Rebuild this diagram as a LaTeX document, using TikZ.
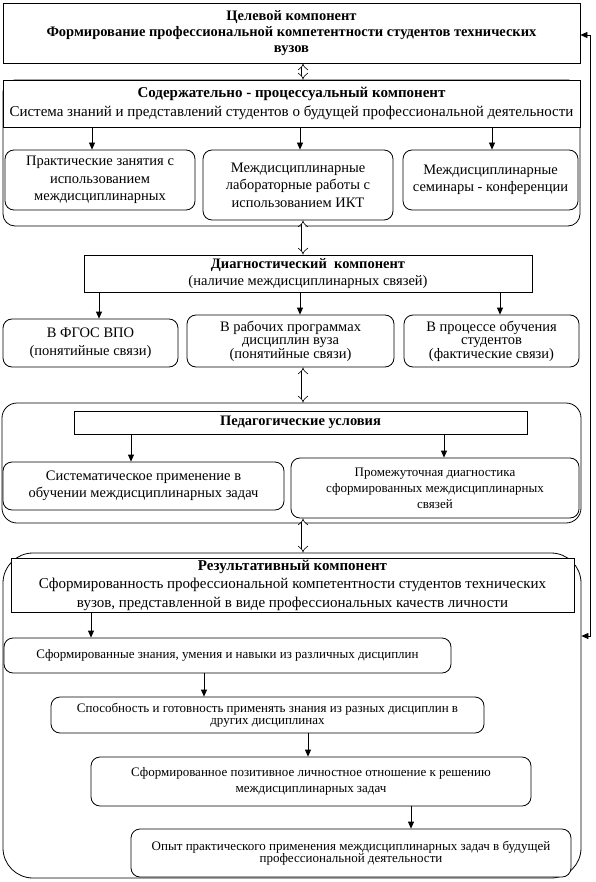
\documentclass[tikz,border=0pt]{standalone}
\usepackage{fontspec}
\setmainfont{Liberation Serif}
\usetikzlibrary{arrows.meta}
\begin{document}
\begin{tikzpicture}[x=1pt,y=-1pt,
  box/.style={draw, fill=white, inner sep=0pt, align=center, line width=0.8pt},
  rbox/.style={box, rounded corners=9pt},
  cont/.style={draw, inner sep=0pt, line width=0.8pt},
  arr/.style={line width=0.8pt, -{Triangle[length=7pt,width=6pt]}},
  fbarr/.style={line width=0.8pt, {Triangle[length=7pt,width=6pt]}-{Triangle[length=7pt,width=6pt]}},
  darr/.style={double, double distance=3pt, line width=0.6pt, {Implies}-{Implies}},
  fbig/.style={font=\fontsize{15}{19}\selectfont},
  fmid/.style={font=\fontsize{14.5}{17.5}\selectfont},
  fsm/.style={font=\fontsize{13}{16}\selectfont}
]
\useasboundingbox (0,0) rectangle (596,882);

% containers
\node[cont, rounded corners=12pt, minimum width=577pt, minimum height=146pt] (c1) at (291.5,153) {};
\node[cont, rounded corners=15pt, minimum width=579pt, minimum height=120pt] (c2) at (291.5,463) {};
\node[cont, rounded corners=30pt, minimum width=578pt, minimum height=325pt] (c3) at (292,715.5) {};

% x positions
\coordinate (mx) at (303,0);
\coordinate (xa) at (92,0);
\coordinate (xb) at (300,0);
\coordinate (xc) at (492,0);
\coordinate (xd1) at (99,0);
\coordinate (xd2) at (300,0);
\coordinate (xd3) at (500,0);
\coordinate (xp1) at (131,0);
\coordinate (xp2) at (444,0);
\coordinate (xr1) at (91,0);
\coordinate (xr2) at (204,0);
\coordinate (xr3) at (308,0);
\coordinate (xr4) at (411,0);
\coordinate (fb) at (590,0);
\coordinate (ya) at (0,35);
\coordinate (yb) at (0,636);

% top box
\node[box, minimum width=577pt, minimum height=60pt, font=\bfseries\fontsize{14.5}{16}\selectfont] (t) at (291.5,33)
  {Целевой компонент\\Формирование профессиональной компетентности студентов технических\\вузов};

% content component
\node[box, fbig, minimum width=577pt, minimum height=47pt] (b2) at (291.5,103.5)
  {\textbf{Содержательно - процессуальный компонент}\\Система знаний и представлений студентов о будущей профессиональной деятельности};

\node[rbox, fmid, minimum width=190pt, minimum height=60pt] (A) at (100,180)
  {Практические занятия с\\использованием\\междисциплинарных};
\node[rbox, fmid, minimum width=190pt, minimum height=70pt] (B) at (298,185)
  {Междисциплинарные\\лабораторные работы с\\использованием ИКТ};
\node[rbox, fmid, minimum width=175pt, minimum height=60pt] (C) at (490.5,180)
  {Междисциплинарные\\семинары - конференции};

% diagnostic
\node[box, fmid, minimum width=448pt, minimum height=37pt] (dg) at (308,273.5)
  {\textbf{Диагностический\ \ компонент}\\(наличие междисциплинарных связей)};
\node[rbox, fmid, minimum width=175pt, minimum height=48pt] (D1) at (90.5,343)
  {В ФГОС ВПО\\(понятийные связи)};
\node[rbox, font=\fontsize{14.5}{13.5}\selectfont, minimum width=207pt, minimum height=52pt] (D2) at (290.5,341)
  {В рабочих программах\\дисциплин вуза\\(понятийные связи)};
\node[rbox, font=\fontsize{14.5}{13.5}\selectfont, minimum width=175pt, minimum height=52pt] (D3) at (491.5,341)
  {В процессе обучения\\студентов\\(фактические связи)};

% pedagogical
\node[box, fmid, minimum width=453pt, minimum height=23pt] (pu) at (300.5,422.5)
  {\textbf{Педагогические условия}};
\node[rbox, fmid, minimum width=281pt, minimum height=48pt] (P1) at (143.5,486)
  {Систематическое применение в\\обучении междисциплинарных задач};
\node[rbox, fsm, minimum width=288pt, minimum height=60pt] (P2) at (435,488)
  {Промежуточная диагностика\\сформированных междисциплинарных\\связей};

% result
\node[box, font=\fontsize{15}{18.5}\selectfont, minimum width=563pt, minimum height=54pt] (r) at (292.5,585)
  {\textbf{Результативный компонент}\\Сформированность профессиональной компетентности студентов технических\\вузов, представленной в виде профессиональных качеств личности};
\node[rbox, fsm, minimum width=447pt, minimum height=35pt] (R1) at (227.5,655.5)
  {Сформированные знания, умения и навыки из различных дисциплин};
\node[rbox, font=\fontsize{13}{12}\selectfont, minimum width=433pt, minimum height=36pt] (R2) at (267.5,715)
  {Способность и готовность применять знания из разных дисциплин в\\других дисциплинах};
\node[rbox, fsm, minimum width=440pt, minimum height=49pt] (R3) at (311,781.5)
  {Сформированное позитивное личностное отношение к решению\\междисциплинарных задач};
\node[rbox, font=\fontsize{13}{12.5}\selectfont, minimum width=440pt, minimum height=48pt] (R4) at (351,853)
  {Опыт практического применения междисциплинарных задач в будущей\\профессиональной деятельности};

% double arrows
\draw[darr] (t.south -| mx) -- (b2.north -| mx);
\draw[darr] (B.south -| mx) -- (dg.north -| mx);
\draw[darr] (D2.south -| mx) -- (c2.north -| mx);
\draw[darr] (P2.south -| mx) -- (c3.north -| mx);

% single arrows
\draw[arr] (b2.south -| xa) -- (A.north -| xa);
\draw[arr] (b2.south -| xb) -- (B.north -| xb);
\draw[arr] (b2.south -| xc) -- (C.north -| xc);
\draw[arr] (dg.south -| xd1) -- (D1.north -| xd1);
\draw[arr] (dg.south -| xd2) -- (D2.north -| xd2);
\draw[arr] (dg.south -| xd3) -- (D3.north -| xd3);
\draw[arr] (pu.south -| xp1) -- (P1.north -| xp1);
\draw[arr] (pu.south -| xp2) -- (P2.north -| xp2);
\draw[arr] (r.south -| xr1) -- (R1.north -| xr1);
\draw[arr] (R1.south -| xr2) -- (R2.north -| xr2);
\draw[arr] (R2.south -| xr3) -- (R3.north -| xr3);
\draw[arr] (R3.south -| xr4) -- (R4.north -| xr4);

% feedback
\draw[fbarr] (t.east |- ya) -- (fb |- ya) -- (fb |- yb) -- (c3.east |- yb);
\end{tikzpicture}
\end{document}
